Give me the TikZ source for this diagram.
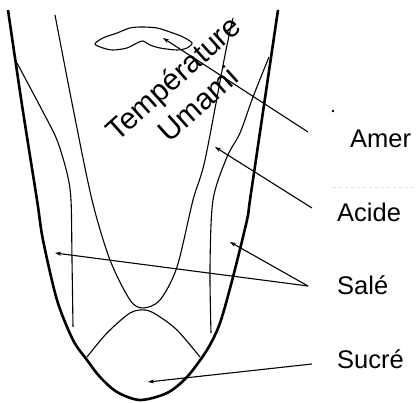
\documentclass[tikz,border=0pt]{standalone}
\usepackage{fontspec}
\setmainfont{Liberation Sans}
\usetikzlibrary{arrows.meta}
\begin{document}
\begin{tikzpicture}[x=1pt,y=-1pt,
  thickcurve/.style={line width=2.6pt,line join=round},
  thincurve/.style={line width=1.1pt},
  pointer/.style={line width=1.1pt,-{Stealth[length=6pt,width=4pt]}},
  lbl/.style={font=\fontsize{25.5}{30}\selectfont,anchor=base west,inner sep=0pt},
  rottext/.style={font=\fontsize{30}{36}\selectfont,anchor=base,inner sep=0pt,rotate=42}]
\useasboundingbox (0,0) rectangle (416,403);
% outer thick parabola
\draw[thickcurve] plot[smooth,tension=0.5] coordinates {(8,10) (22,105) (37,200) (43,240) (57,300) (73,340) (87,360) (100,377) (117,392) (140,400) (167,393) (187,377) (207,350) (220,323) (233,277) (247,220) (250,200) (264,105) (278,10)};
% Amer inner parabola
\draw[thincurve] plot[smooth,tension=0.5] coordinates {(55,15) (73,108) (92,200) (110,260) (130,300) (143,308) (160,300) (177,267) (193,200) (205,160) (225,55) (233,18)};
% Acide curve
\draw[thincurve] plot[smooth,tension=0.5] coordinates {(17,63) (42,110) (57,140) (67,173) (71,200) (72,260) (73,327)};
\draw[thincurve] plot[smooth,tension=0.5] coordinates {(269,57) (253,97) (240,133) (227,157) (213,200) (210,267) (211,333)};
% arch (Sucre)
\draw[thincurve] plot[smooth,tension=0.5] coordinates {(87,357) (107,333) (130,313) (145,310) (157,315) (177,330) (200,357)};
% blob (Temperature / Umami zone)
\draw[thincurve] plot[smooth cycle,tension=0.5] coordinates {(95,44) (103,38) (117,33) (130,28) (142,27) (157,28) (170,32) (183,37) (192,43) (187,48) (177,50) (160,48) (150,45) (143,41) (137,43) (127,48) (113,50) (103,48)};
% labels
\node[lbl] (amer) at (350,148) {Amer};
\node[lbl] (acide) at (337,222) {Acide};
\node[lbl] (sale) at (337,295) {Salé};
\node[lbl] (sucre) at (337,369) {Sucré};
\node[rottext] (temp) at (180,86) {Température};
\node[rottext] (umami) at (205,112) {Umami};
% arrow end points
\coordinate (amerfrom) at (308,132);
\coordinate (amerto) at (163,38);
\coordinate (acidefrom) at (312,208);
\coordinate (acideto) at (215,147);
\coordinate (salefrom) at (308,286);
\coordinate (saletoR) at (230,242);
\coordinate (saletoL) at (55,253);
\coordinate (sucrefrom) at (312,364);
\coordinate (sucreto) at (148,382);
\draw[pointer] (amerfrom) -- (amerto);
\draw[pointer] (acidefrom) -- (acideto);
\draw[pointer] (salefrom) -- (saletoR);
\draw[pointer] (salefrom) -- (saletoL);
\draw[pointer] (sucrefrom) -- (sucreto);
% small artefacts
\fill (333,111) circle (1.3pt);
\fill[gray!50] (394,112) circle (0.6pt);
\draw[gray!25,dashed,line width=0.6pt] (333,187) -- (416,187);
\end{tikzpicture}
\end{document}
